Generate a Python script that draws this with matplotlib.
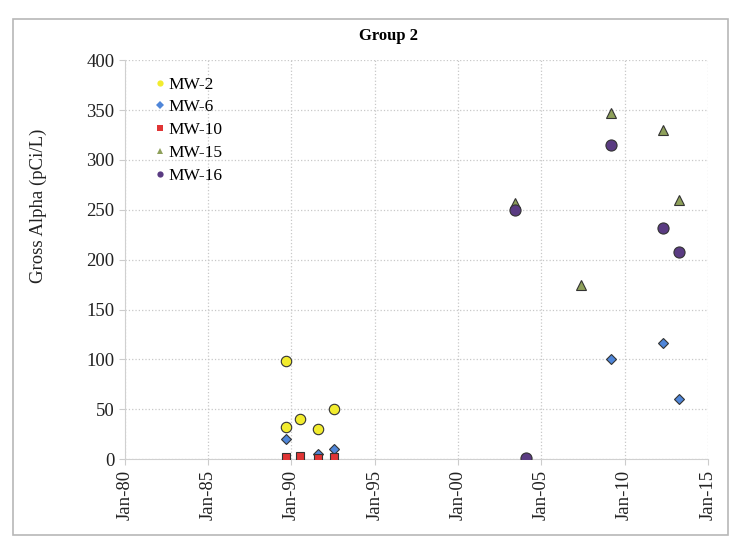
import datetime as dt
import matplotlib
matplotlib.use('Agg')
import matplotlib.pyplot as plt
import matplotlib.dates as mdates
from matplotlib.patches import Rectangle

plt.rcParams['font.family'] = ['Liberation Serif', 'DejaVu Serif']

#-----------------------------------------------------------------------------------------#
# sample dates (year, month) and gross alpha values (pCi/L)

mw2_dates = [(1989, 9), (1989, 9), (1990, 7), (1991, 8), (1992, 8)]
mw2_vals = [98, 32, 40, 30, 50]

mw6_dates = [(1989, 9), (1991, 8), (1992, 8), (2009, 3), (2012, 5), (2013, 4)]
mw6_vals = [20, 5, 10, 100, 116, 60]

mw10_dates = [(1989, 9), (1990, 7), (1991, 8), (1992, 8)]
mw10_vals = [2, 3, 1, 2]

mw15_dates = [(2003, 6), (2007, 6), (2009, 3), (2012, 5), (2013, 4)]
mw15_vals = [257, 175, 347, 330, 260]

mw16_dates = [(2003, 6), (2004, 2), (2009, 3), (2012, 5), (2013, 4)]
mw16_vals = [250, 1, 315, 232, 208]

x_ticks = [1980, 1985, 1990, 1995, 2000, 2005, 2010, 2015]
y_ticks = [0, 50, 100, 150, 200, 250, 300, 350, 400]

series = [
    ('MW-2', mw2_dates, mw2_vals, 'o', '#f2ec2e', 7.5),
    ('MW-6', mw6_dates, mw6_vals, 'D', '#4f86d9', 5.5),
    ('MW-10', mw10_dates, mw10_vals, 's', '#e03535', 6),
    ('MW-15', mw15_dates, mw15_vals, '^', '#8ea05a', 7.5),
    ('MW-16', mw16_dates, mw16_vals, 'o', '#5a3b82', 8),
]

#-----------------------------------------------------------------------------------------#

def to_dates(pairs):
    return [dt.date(y, m, 1) for y, m in pairs]

fig = plt.figure(figsize=(7.35, 5.37), dpi=100)
ax = fig.add_axes([0.170, 0.145, 0.793, 0.743])

# chart border
fig.patches.append(Rectangle((0.018, 0.004), 0.973, 0.961, transform=fig.transFigure,
                             fill=False, edgecolor='#b8b8b8', linewidth=1.2))

for name, d, v, mk, col, ms in series:
    ax.plot(to_dates(d), v, linestyle='none', marker=mk, markersize=ms,
            markerfacecolor=col, markeredgecolor='#333333', markeredgewidth=0.8,
            label=name, zorder=3)

ax.set_xlim(dt.date(1980, 1, 1), dt.date(2015, 1, 1))
ax.set_ylim(0, 400)
ax.set_xticks([dt.date(y, 1, 1) for y in x_ticks])
ax.xaxis.set_major_formatter(mdates.DateFormatter('Jan-%y'))
ax.set_yticks(y_ticks)
plt.setp(ax.get_xticklabels(), rotation=90)
ax.tick_params(axis='both', labelsize=13.5, colors='#222222', length=4,
               color='#cccccc')

ax.grid(True, linestyle=':', color='#c8c8c8', linewidth=0.9)
ax.set_axisbelow(True)
for side in ['top', 'right']:
    ax.spines[side].set_visible(False)
ax.spines['left'].set_color('#d0d0d0')
ax.spines['bottom'].set_color('#d0d0d0')

ax.set_ylabel('Gross Alpha (pCi/L)', fontsize=13.5, color='#222222')
ax.yaxis.set_label_coords(-0.134, 0.634)
fig.text(0.528, 0.933, 'Group 2', ha='center', va='center', fontsize=12,
         fontweight='bold')

leg = ax.legend(loc='upper left', bbox_to_anchor=(0.035, 0.985), frameon=False,
                fontsize=12.5, handlelength=0.5, handletextpad=0.25,
                labelspacing=0.38, borderaxespad=0.2)
for h in leg.legend_handles:
    h.set_markeredgewidth(0)
    h.set_markersize(4.5)

plt.savefig('out.png', dpi=100)
